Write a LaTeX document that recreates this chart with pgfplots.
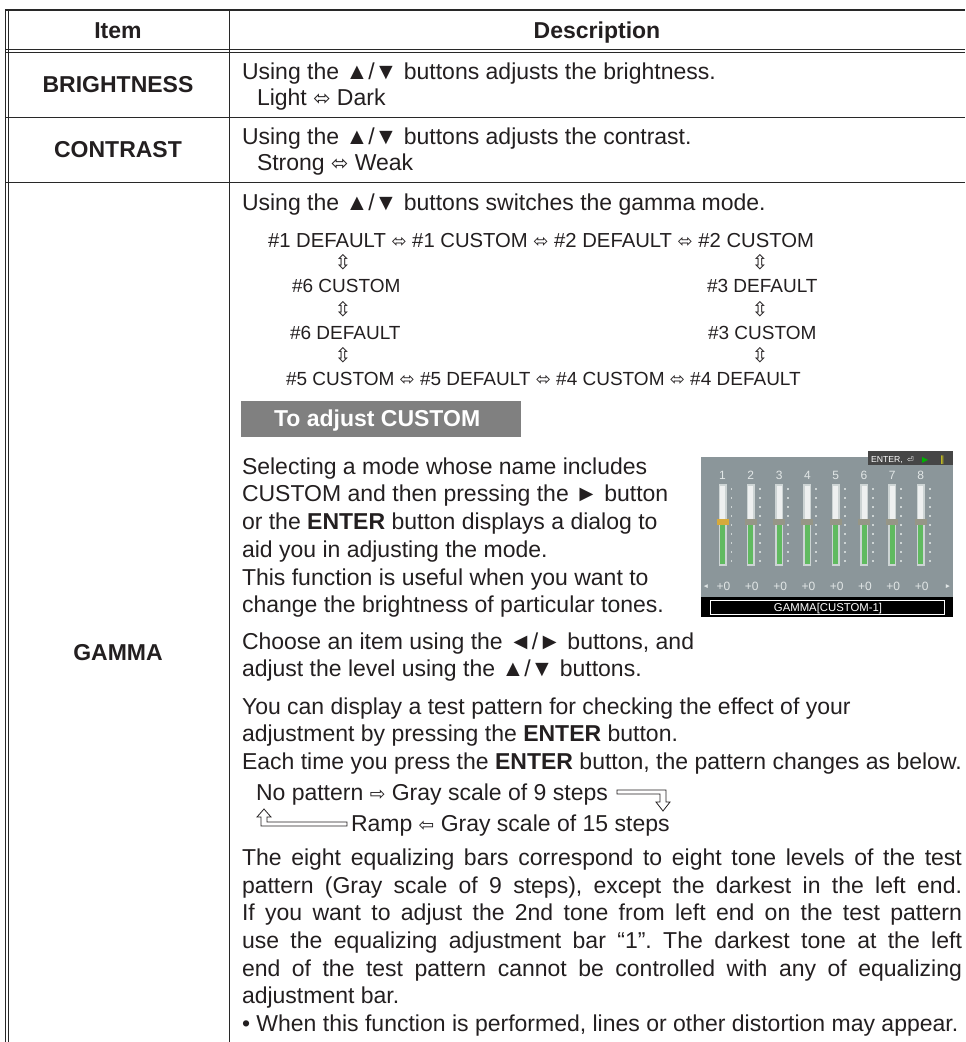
\documentclass[border=0pt]{standalone}
\usepackage{pgfplots}
\pgfplotsset{compat=1.18}
\usepackage{fontspec}
\setmainfont{Liberation Sans}
\newfontfamily\dv{DejaVu Sans}
\frenchspacing
\definecolor{txt}{RGB}{35,31,32}
\definecolor{ln}{RGB}{40,40,40}
\definecolor{boxg}{RGB}{128,128,128}
\definecolor{panel}{RGB}{139,150,154}
\definecolor{barg}{RGB}{96,186,96}
\definecolor{barw}{RGB}{238,240,240}
\definecolor{barb}{RGB}{205,212,212}
\definecolor{knob}{RGB}{150,150,135}
\definecolor{knoby}{RGB}{215,170,60}
\definecolor{numc}{RGB}{225,230,230}
\definecolor{tagc}{RGB}{70,70,70}
\newcommand\M{\fontsize{17.25pt}{20pt}\selectfont}
\newcommand\Sm{\fontsize{14.25pt}{16pt}\selectfont}
\newcommand\Sb{\fontsize{15.2pt}{17pt}\selectfont}
\newcommand\Tn{\fontsize{9pt}{9pt}\selectfont}
\newcommand\lr{{\dv\fontsize{15.5pt}{12pt}\selectfont ⬄}}
\newcommand\lrs{{\dv\fontsize{13.5pt}{10pt}\selectfont ⬄}}
\newcommand\ud{{\dv\fontsize{15pt}{11pt}\selectfont ⇳}}
\newcommand\ra{{\dv\fontsize{14pt}{12pt}\selectfont ⇨}}
\newcommand\la{{\dv\fontsize{14pt}{12pt}\selectfont ⇦}}
\newcommand\T[3]{\node[anchor=base west] at (axis cs:#1,#2) {#3};}
\newcommand\C[3]{\node[anchor=base] at (axis cs:#1,#2) {#3};}
\newcommand\J[2]{\node[anchor=base west] at (axis cs:242,#1) {\makebox[540pt][s]{#2}};}
\begin{document}
\begin{tikzpicture}[every node/.style={inner sep=0pt,outer sep=0pt,text=txt,font=\M}]
\begin{axis}[name=A, scale only axis, width=723.75pt, height=781.5pt,
  xmin=0, xmax=965, ymin=0, ymax=1042, y dir=reverse, hide axis,
  clip=false, unbounded coords=jump]
% ---- table rules
\addplot[ln, line width=1.5pt] coordinates {(4.8,10) (965,10)};
\addplot[ln, line width=0.9pt] coordinates {(5.5,10) (5.5,1042)};
\addplot[ln, line width=0.6pt] coordinates {(8.5,10) (8.5,1042)};
\addplot[ln, line width=0.75pt] coordinates {(5.5,49) (965,49)};
\addplot[ln, line width=0.75pt] coordinates {(5.5,52) (965,52)};
\addplot[ln, line width=0.75pt] coordinates {(229.5,10) (229.5,1042)};
\addplot[ln, line width=0.75pt] coordinates {(5.5,117) (965,117)};
\addplot[ln, line width=0.75pt] coordinates {(5.5,182) (965,182)};
% ---- header and item column
\C{118}{38}{\textbf{Item}}
\C{597}{38}{\textbf{Description}}
\C{118}{92}{\textbf{BRIGHTNESS}}
\C{118}{157}{\textbf{CONTRAST}}
\C{118}{660}{\textbf{GAMMA}}
% ---- brightness / contrast
\T{242}{79}{Using the ▲/▼ buttons adjusts the brightness.}
\T{257}{105}{Light \lr{} Dark}
\T{242}{144}{Using the ▲/▼ buttons adjusts the contrast.}
\T{257}{170}{Strong \lr{} Weak}
% ---- gamma
\T{242}{210}{Using the ▲/▼ buttons switches the gamma mode.}
\T{268}{247}{\Sb \#1 DEFAULT \lrs{} \#1 CUSTOM \lrs{} \#2 DEFAULT \lrs{} \#2 CUSTOM}
\C{343}{269}{\ud}
\C{760}{269}{\ud}
\T{292}{292}{\Sm \#6 CUSTOM}
\T{707}{292}{\Sm \#3 DEFAULT}
\C{343}{316}{\ud}
\C{760}{316}{\ud}
\T{290}{339}{\Sm \#6 DEFAULT}
\T{708}{339}{\Sm \#3 CUSTOM}
\C{343}{362}{\ud}
\C{760}{362}{\ud}
\T{286}{385}{\Sm \#5 CUSTOM \lrs{} \#5 DEFAULT \lrs{} \#4 CUSTOM \lrs{} \#4 DEFAULT}
\addplot[fill=boxg, draw=none] coordinates {(241,401) (521,401) (521,437) (241,437)} --cycle;
\node[anchor=base west, text=white] at (axis cs:274,426) {\textbf{To adjust CUSTOM}};
\T{242}{474}{Selecting a mode whose name includes}
\T{242}{501}{CUSTOM and then pressing the ► button}
\T{242}{529}{or the \textbf{ENTER} button displays a dialog to}
\T{242}{557}{aid you in adjusting the mode.}
\T{242}{585}{This function is useful when you want to}
\T{242}{612}{change the brightness of particular tones.}
\T{242}{649}{Choose an item using the ◄/► buttons, and}
\T{242}{676}{adjust the level using the ▲/▼ buttons.}
\T{242}{714}{You can display a test pattern for checking the effect of your}
\T{242}{741}{adjustment by pressing the \textbf{ENTER} button.}
\T{242}{769}{Each time you press the \textbf{ENTER} button, the pattern changes as below.}
\T{256}{800}{No pattern \ra{} Gray scale of 9 steps}
\T{351}{831}{Ramp \la{} Gray scale of 15 steps}
\addplot[draw=txt, line width=0.6pt, fill=white] coordinates {(617,790) (666,790) (666,802) (670,802) (663,811) (656,802) (660,802) (660,794) (617,794)} --cycle;
\addplot[draw=txt, line width=0.6pt, fill=white] coordinates {(264,809) (271,817) (267,817) (267,822) (347,822) (347,826) (261,826) (261,817) (257,817)} --cycle;
\J{865}{The eight equalizing bars correspond to eight tone levels of the test}
\J{893}{pattern (Gray scale of 9 steps), except the darkest in the left end.}
\J{920}{If you want to adjust the 2nd tone from left end on the test pattern}
\J{948}{use the equalizing adjustment bar “1”. The darkest tone at the left}
\J{976}{end of the test pattern cannot be controlled with any of equalizing}
\T{242}{1003}{adjustment bar.}
\T{242}{1031}{• When this function is performed, lines or other distortion may appear.}
% ---- on-screen dialog picture
\addplot[fill=panel, draw=none] coordinates {(701,457) (953,457) (953,597) (701,597)} --cycle;
\addplot[fill=tagc, draw=none] coordinates {(868,451) (953,451) (953,465) (868,465)} --cycle;
\node[anchor=base west, text=white, font=\fontsize{6.5pt}{6pt}\selectfont] at (axis cs:871,462) {ENTER,};
\node[anchor=base west, text=white, font=\dv\fontsize{6pt}{6pt}\selectfont] at (axis cs:907,462) {⏎};
\node[anchor=base west, text=green!70!black, font=\dv\fontsize{6pt}{6pt}\selectfont] at (axis cs:922,462) {▶};
\node[anchor=base west, text=yellow!90!black, font=\dv\fontsize{6.5pt}{6pt}\selectfont] at (axis cs:940,462) {‖};
\addplot[barb, line width=6pt] coordinates {(722.5,484) (722.5,566) (722.5,nan) (750.8,484) (750.8,566) (750.8,nan) (779.1,484) (779.1,566) (779.1,nan) (807.4,484) (807.4,566) (807.4,nan) (835.7,484) (835.7,566) (835.7,nan) (864.0,484) (864.0,566) (864.0,nan) (892.3,484) (892.3,566) (892.3,nan) (920.6,484) (920.6,566)};
\addplot[barw, line width=3.75pt] coordinates {(722.5,486) (722.5,522) (722.5,nan) (750.8,486) (750.8,522) (750.8,nan) (779.1,486) (779.1,522) (779.1,nan) (807.4,486) (807.4,522) (807.4,nan) (835.7,486) (835.7,522) (835.7,nan) (864.0,486) (864.0,522) (864.0,nan) (892.3,486) (892.3,522) (892.3,nan) (920.6,486) (920.6,522)};
\addplot[barg, line width=3.75pt] coordinates {(722.5,522) (722.5,564) (722.5,nan) (750.8,522) (750.8,564) (750.8,nan) (779.1,522) (779.1,564) (779.1,nan) (807.4,522) (807.4,564) (807.4,nan) (835.7,522) (835.7,564) (835.7,nan) (864.0,522) (864.0,564) (864.0,nan) (892.3,522) (892.3,564) (892.3,nan) (920.6,522) (920.6,564)};
\addplot[barb, line width=1.4pt, dash pattern=on 1.2pt off 5.55pt] coordinates {(731.5,488) (731.5,564) (731.5,nan) (759.8,488) (759.8,564) (759.8,nan) (788.1,488) (788.1,564) (788.1,nan) (816.4,488) (816.4,564) (816.4,nan) (844.7,488) (844.7,564) (844.7,nan) (873.0,488) (873.0,564) (873.0,nan) (901.3,488) (901.3,564) (901.3,nan) (929.6,488) (929.6,564)};
\addplot[knoby, line width=9pt] coordinates {(722.5,519) (722.5,525)};
\addplot[knob, line width=9pt] coordinates {(750.8,519) (750.8,525) (750.8,nan) (779.1,519) (779.1,525) (779.1,nan) (807.4,519) (807.4,525) (807.4,nan) (835.7,519) (835.7,525) (835.7,nan) (864.0,519) (864.0,525) (864.0,nan) (892.3,519) (892.3,525) (892.3,nan) (920.6,519) (920.6,525)};
\begin{scope}[every node/.append style={text=numc, font=\Tn}]
\C{722.5}{479}{1} \C{750.8}{479}{2} \C{779.1}{479}{3} \C{807.4}{479}{4}
\C{835.7}{479}{5} \C{864.0}{479}{6} \C{892.3}{479}{7} \C{920.6}{479}{8}
\C{723.5}{590}{+0} \C{751.8}{590}{+0} \C{780.1}{590}{+0} \C{808.4}{590}{+0}
\C{836.7}{590}{+0} \C{865.0}{590}{+0} \C{893.3}{590}{+0} \C{921.6}{590}{+0}
\end{scope}
\node[anchor=base, text=numc, font=\fontsize{5pt}{5pt}\selectfont] at (axis cs:706,588) {◄};
\node[anchor=base, text=numc, font=\fontsize{5pt}{5pt}\selectfont] at (axis cs:948,588) {►};
\addplot[fill=black, draw=none] coordinates {(701,597) (953,597) (953,617) (701,617)} --cycle;
\addplot[white, line width=0.6pt] coordinates {(710,600) (944,600) (944,614) (710,614)} --cycle;
\node[anchor=base, text=white, font=\fontsize{8.5pt}{8pt}\selectfont] at (axis cs:828,611) {GAMMA[CUSTOM-1]};
\end{axis}
\pgfresetboundingbox
\path[use as bounding box] (A.south west) rectangle (A.north east);
\end{tikzpicture}
\end{document}
